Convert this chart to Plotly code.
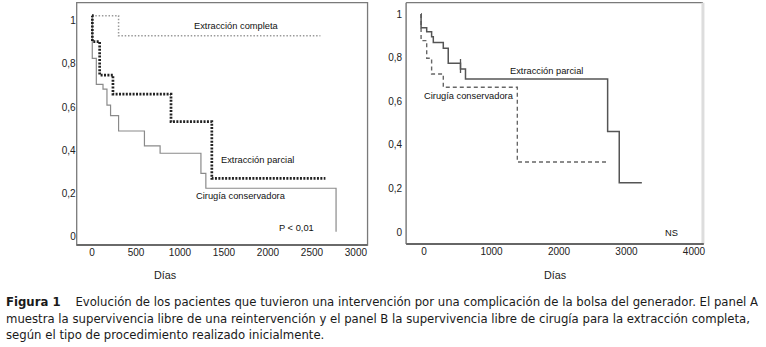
import plotly.graph_objects as go

W, H = 766, 347

# ---------------- Data ----------------
# Panel A: supervivencia libre de reintervención
a_completa_x = [0, 302, 2596]
a_completa_y = [1, 0.907, 0.907]

a_parcial_x = [0, 4, 87, 238, 898, 1362, 2653]
a_parcial_y = [1, 0.880, 0.725, 0.637, 0.509, 0.247, 0.247]

a_conserv_x = [0, 3, 49, 125, 170, 211, 302, 596, 774, 1238, 1294, 2774]
a_conserv_y = [1, 0.802, 0.682, 0.660, 0.586, 0.537, 0.466, 0.397, 0.363, 0.270, 0.201, 0]

# Panel B: supervivencia libre de cirugía para la extracción completa
b_parcial_x = [0, 1, 84, 157, 182, 330, 403, 585, 659, 2765, 2937, 3272]
b_parcial_y = [1, 0.937, 0.919, 0.896, 0.869, 0.843, 0.774, 0.748, 0.702, 0.461, 0.226, 0.226]

b_conserv_x = [0, 1, 84, 157, 330, 1427, 2780]
b_conserv_y = [1, 0.878, 0.797, 0.725, 0.664, 0.321, 0.321]

b_censor_x = [585]
b_censor_y = [0.762]

y_tickvals = [0, 0.2, 0.4, 0.6, 0.8, 1]
y_ticktext = ["0", "0,2", "0,4", "0,6", "0,8", "1"]
a_xticks = [0, 500, 1000, 1500, 2000, 2500, 3000]
b_xticks = [0, 1000, 2000, 3000, 4000]

caption_lines = [
    "<b>Figura 1</b>\u00a0\u00a0\u00a0 Evolución de los pacientes que tuvieron una intervención por una complicación de la bolsa del generador. El panel A",
    "muestra la supervivencia libre de una reintervención y el panel B la supervivencia libre de cirugía para la extracción completa,",
    "según el tipo de procedimiento realizado inicialmente.",
]

# ---------------- Figure ----------------
fig = go.Figure()

fig.add_trace(go.Scatter(x=a_completa_x, y=a_completa_y, mode="lines", line_shape="hv",
                         line=dict(color="#9a9a9a", width=1.5, dash="1.5px,1.8px"),
                         xaxis="x", yaxis="y", showlegend=False))
fig.add_trace(go.Scatter(x=a_conserv_x, y=a_conserv_y, mode="lines", line_shape="hv",
                         line=dict(color="#8a8a8a", width=1.2),
                         xaxis="x", yaxis="y", showlegend=False))
fig.add_trace(go.Scatter(x=a_parcial_x, y=a_parcial_y, mode="lines", line_shape="hv",
                         line=dict(color="#222222", width=2.7, dash="2px,1.4px"),
                         xaxis="x", yaxis="y", showlegend=False))

fig.add_trace(go.Scatter(x=b_conserv_x, y=b_conserv_y, mode="lines", line_shape="hv",
                         line=dict(color="#666666", width=1.4, dash="4px,3px"),
                         xaxis="x2", yaxis="y2", showlegend=False))
fig.add_trace(go.Scatter(x=b_parcial_x, y=b_parcial_y, mode="lines", line_shape="hv",
                         line=dict(color="#555555", width=1.5),
                         xaxis="x2", yaxis="y2", showlegend=False))
fig.add_trace(go.Scatter(x=b_censor_x, y=b_censor_y, mode="markers",
                         marker=dict(symbol="line-ns", size=10, line=dict(color="#555555", width=1.3)),
                         xaxis="x2", yaxis="y2", showlegend=False))

tickfont = dict(family="Liberation Sans, Arial, sans-serif", size=10, color="#222222")

def px_x(p):
    return p / W

def px_y(p):
    return 1 - p / H

common_axis = dict(showgrid=False, zeroline=False, showline=False, ticks="", tickfont=tickfont,
                   fixedrange=True)

fig.update_layout(
    width=W, height=H,
    margin=dict(l=0, r=0, t=0, b=0),
    paper_bgcolor="white", plot_bgcolor="white",
    xaxis=dict(domain=[px_x(77), px_x(369)], range=[-174, 3132], tickvals=a_xticks,
               anchor="y", ticklabelstandoff=0, **common_axis),
    yaxis=dict(domain=[px_y(245), px_y(2.7)], range=[-0.0617, 1.060], tickvals=y_tickvals,
               ticktext=y_ticktext, anchor="x", ticklabelshift=5, ticklabelstandoff=0,
               **common_axis),
    xaxis2=dict(domain=[px_x(407.7), px_x(705.7)], range=[-221, 4177], tickvals=b_xticks,
                anchor="y2", ticklabelshift=3, ticklabelstandoff=0, **common_axis),
    yaxis2=dict(domain=[px_y(244), px_y(2.7)], range=[-0.055, 1.052], tickvals=y_tickvals,
                ticktext=y_ticktext, anchor="x2", ticklabelstandoff=3, **common_axis),
)

shapes = []
# Panel A frame
shapes.append(dict(type="rect", xref="x domain", yref="y domain", x0=0, x1=1, y0=0, y1=1,
                   line=dict(color="#7a7a7a", width=1.3), layer="below"))
shapes.append(dict(type="line", xref="x domain", yref="y domain", x0=0, x1=1, y0=0, y1=0,
                   line=dict(color="#6a6a6a", width=2)))
# Panel B frame
shapes.append(dict(type="line", xref="x2 domain", yref="y2 domain", x0=0, x1=0, y0=0, y1=1,
                   line=dict(color="#6a6a6a", width=1.3)))
shapes.append(dict(type="line", xref="x2 domain", yref="y2 domain", x0=0, x1=1, y0=1, y1=1,
                   line=dict(color="#7a7a7a", width=1.3)))
shapes.append(dict(type="line", xref="x2 domain", yref="y2 domain", x0=1, x1=1, y0=0, y1=1,
                   line=dict(color="#dddddd", width=3)))
shapes.append(dict(type="line", xref="x2 domain", yref="y2 domain", x0=0, x1=1.003, y0=0, y1=0,
                   line=dict(color="#666666", width=2)))
fig.update_layout(shapes=shapes)

lab_font = dict(family="Liberation Sans, Arial, sans-serif", size=9.3, color="#111111")
ann = []
def add_text(text, cx, cy, font=lab_font, xanchor="center"):
    ann.append(dict(text=text, x=px_x(cx), y=px_y(cy), xref="paper", yref="paper",
                    showarrow=False, xanchor=xanchor, yanchor="middle", font=font))

add_text("Extracción completa", 237, 26)
add_text("Extracción parcial", 259, 160)
add_text("Cirugía conservadora", 242, 196)
add_text("P < 0,01", 298, 228)
add_text("Extracción parcial", 549, 71)
add_text("Cirugía conservadora", 471, 96)
add_text("NS", 674, 233)

dias_font = dict(family="Liberation Sans, Arial, sans-serif", size=10.8, color="#222222")
add_text("Días", 166, 275, dias_font)
add_text("Días", 558, 275, dias_font)

cap_font = dict(family="DejaVu Sans, sans-serif", size=11.7, color="#1a1a1a")
for i, (line, cy) in enumerate(zip(caption_lines, [302, 318.5, 335])):
    add_text(line, 4, cy, cap_font, xanchor="left")

fig.update_layout(annotations=ann)

fig.write_html("out.html", config={"displayModeBar": False},
               post_script="document.body.style.margin='0';document.body.style.padding='0';")
